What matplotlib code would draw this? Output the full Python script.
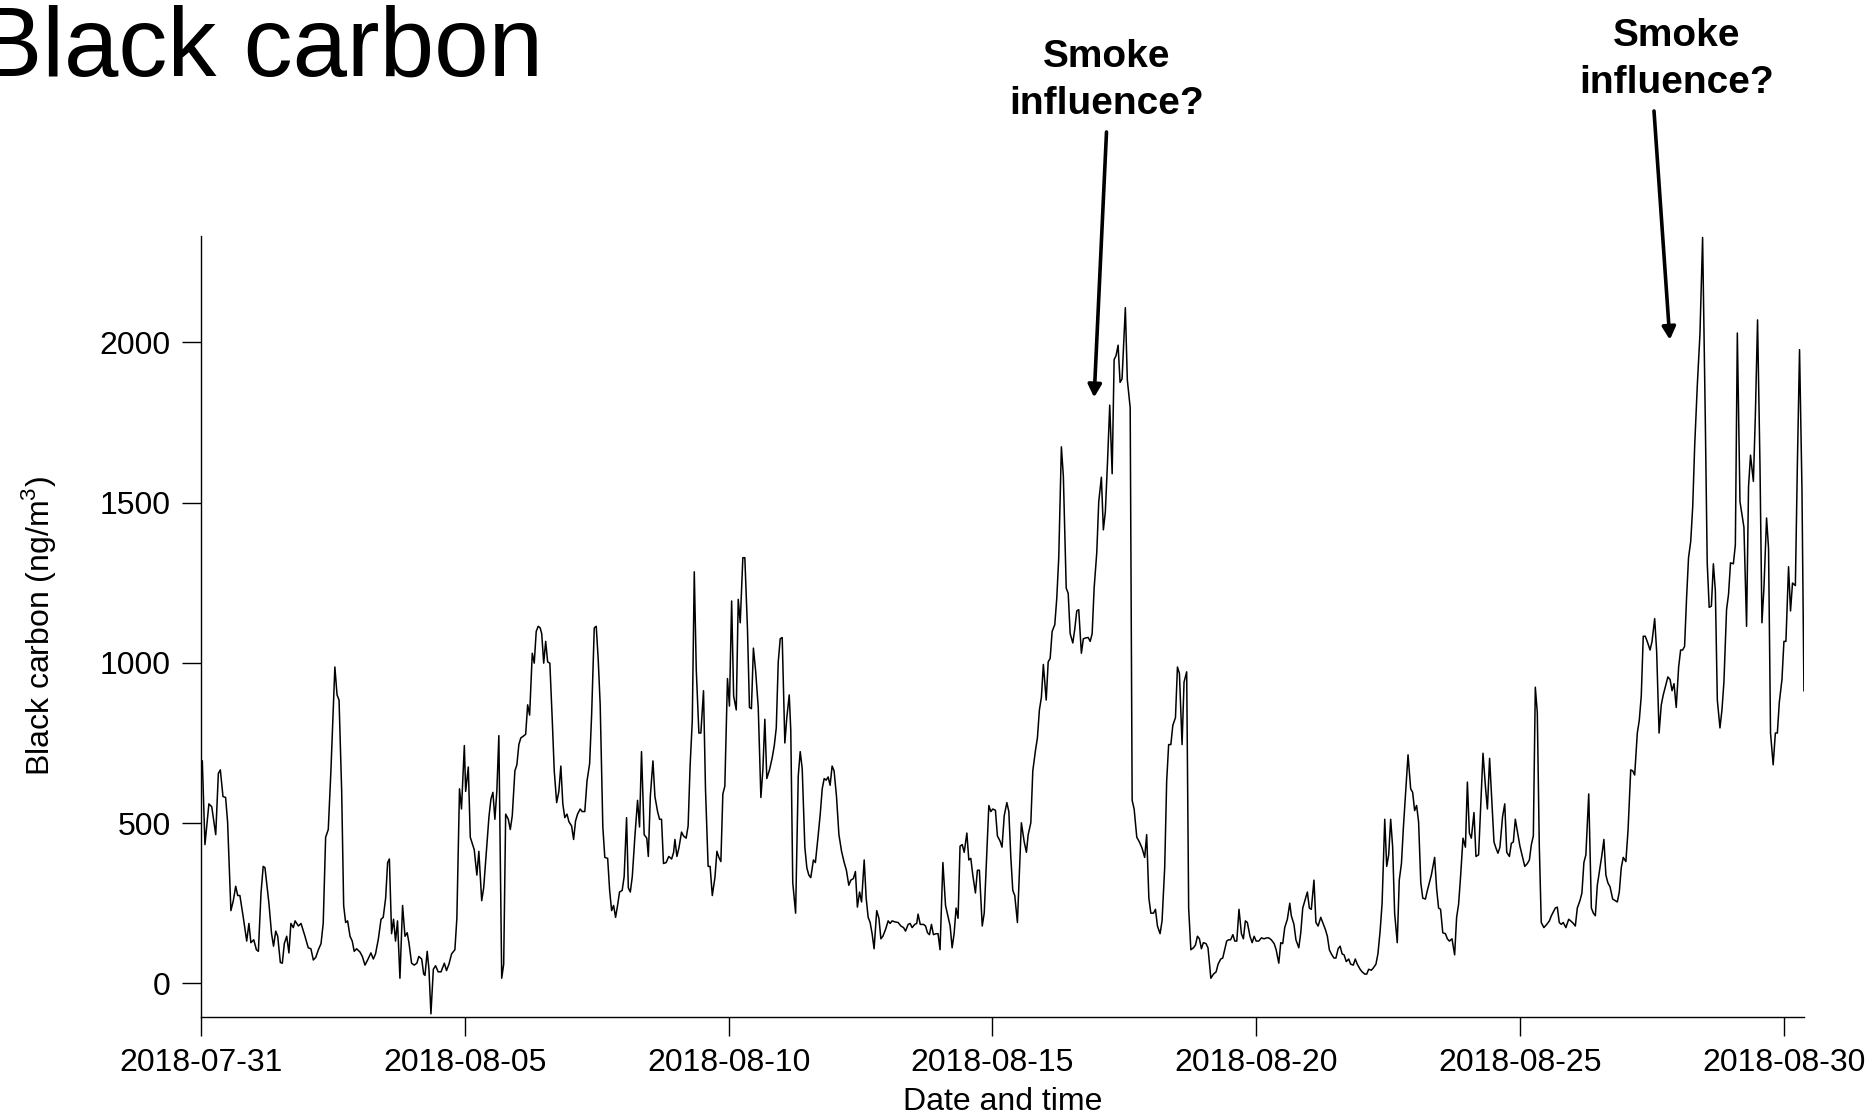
import matplotlib.pyplot as plt
import pandas as pd

plt.rcParams['font.family'] = ['Liberation Sans', 'DejaVu Sans']
plt.rcParams['mathtext.fontset'] = 'custom'
plt.rcParams['mathtext.rm'] = 'Liberation Sans'

start = pd.Timestamp('2018-07-31 00:00')

# hours since start / black carbon (ng/m3), split into ~5 day blocks
hours_a = [0.6, 1.8, 3.6, 4.9, 6.7, 7.9, 8.8, 10.0, 11.2, 12.1,
           13.6, 14.7, 15.8, 16.7, 17.7, 19.3, 20.8, 21.8, 22.7, 24.0,
           25.2, 26.1, 27.3, 28.3, 29.1, 30.9, 32.1, 33.0, 34.0, 34.9,
           36.1, 37.0, 37.9, 39.0, 40.0, 40.9, 42.0, 42.8, 44.3, 45.5,
           47.3, 48.8, 50.0, 51.1, 52.2, 53.4, 54.6, 55.6, 56.7, 57.9,
           59.1, 60.9, 61.9, 62.8, 64.0, 64.9, 65.8, 66.7, 67.8, 68.8,
           69.7, 70.8, 72.3, 73.4, 74.6, 75.8, 77.3, 78.4, 79.4, 80.7,
           81.9, 82.9, 84.0, 84.9, 85.7, 86.7, 87.6, 88.5, 89.4, 90.5,
           91.7, 92.8, 93.8, 94.6, 95.8, 97.0, 98.2, 99.1, 100.4, 101.3,
           101.9, 102.9, 103.7, 104.6, 105.7, 106.7, 107.9, 109.2, 110.7, 111.7,
           112.8, 114.0, 115.5, 116.4, 117.6, 118.5, 119.8]
bc_a = [694, 433, 560, 551, 464, 655, 666, 583, 580, 504,
        227, 258, 303, 274, 274, 203, 132, 187, 127, 136,
        105, 100, 282, 365, 361, 250, 155, 116, 163, 147,
        65, 63, 124, 147, 95, 187, 174, 195, 179, 187,
        147, 111, 108, 73, 81, 105, 124, 187, 456, 480,
        663, 987, 900, 884, 599, 243, 190, 195, 147, 132,
        100, 108, 98, 84, 57, 73, 95, 76, 92, 139,
        200, 206, 266, 377, 388, 155, 200, 132, 195, 16,
        243, 147, 158, 127, 63, 57, 63, 84, 76, 29,
        25, 100, 44, -95, 44, 55, 36, 36, 63, 40,
        60, 92, 105, 203, 607, 544, 742]

hours_b = [120.4, 121.6, 122.5, 124.3, 125.5, 126.4, 127.7, 128.6, 129.9, 131.0,
           131.9, 132.8, 133.7, 134.6, 135.5, 136.8, 137.7, 138.6, 139.8, 140.7,
           141.6, 142.8, 143.7, 144.6, 145.5, 146.4, 147.7, 148.6, 149.5, 150.7,
           151.6, 152.5, 153.4, 154.3, 155.0, 155.9, 156.8, 157.7, 158.7, 159.8,
           160.7, 161.8, 162.8, 163.7, 164.6, 165.5, 166.5, 167.4, 168.6, 169.5,
           170.4, 171.3, 172.5, 173.4, 174.6, 175.6, 176.8, 177.7, 178.9, 179.8,
           180.7, 181.6, 182.8, 183.7, 185.0, 185.9, 186.8, 187.7, 188.6, 189.5,
           190.4, 191.6, 192.5, 193.6, 194.4, 195.3, 196.2, 197.4, 198.6, 199.5,
           200.4, 201.6, 202.8, 203.5, 204.4, 205.6, 206.5, 207.7, 208.6, 209.5,
           210.4, 211.6, 212.8, 214.1, 215.0, 215.6, 216.5, 217.4, 218.6, 219.5,
           220.7, 221.6, 222.5, 223.5, 224.4, 225.3, 226.5, 227.4, 228.6, 229.5,
           230.7, 231.6, 232.6, 233.8, 234.7, 235.6, 236.5, 237.4, 238.3, 239.5,
           240.4, 241.4, 242.3, 243.5, 244.4, 245.3, 246.5, 247.4]
bc_b = [599, 675, 456, 417, 338, 412, 258, 298, 417, 520,
        575, 596, 512, 602, 773, 16, 60, 528, 512, 480,
        523, 663, 682, 745, 766, 770, 777, 869, 837, 1030,
        999, 1098, 1114, 1109, 1091, 999, 1067, 1003, 999, 821,
        663, 564, 599, 678, 560, 517, 528, 504, 491, 449,
        507, 528, 544, 536, 536, 631, 686, 837, 1109, 1114,
        1011, 869, 488, 393, 390, 290, 227, 243, 206, 243,
        285, 290, 333, 517, 298, 285, 333, 460, 571, 488,
        723, 464, 453, 396, 583, 694, 583, 536, 512, 512,
        374, 377, 396, 388, 409, 449, 396, 422, 472, 460,
        453, 491, 678, 821, 1284, 980, 781, 781, 913, 607,
        365, 365, 274, 330, 412, 393, 380, 591, 615, 951,
        865, 1193, 897, 853, 1198, 1125, 1328, 1328]

hours_c = [248.6, 249.5, 250.4, 251.3, 252.3, 253.5, 254.7, 255.6, 256.5, 257.4,
           258.6, 259.8, 260.8, 261.7, 262.6, 263.5, 264.4, 265.6, 266.5, 267.6,
           268.3, 269.2, 270.5, 271.7, 272.6, 273.5, 274.7, 275.6, 276.5, 277.4,
           278.6, 279.5, 280.8, 281.7, 282.6, 283.5, 284.4, 285.3, 286.2, 287.1,
           288.0, 289.1, 290.2, 291.4, 292.6, 293.6, 294.7, 295.6, 296.8, 297.7,
           298.6, 299.6, 300.5, 301.7, 302.6, 303.5, 304.4, 305.3, 306.2, 307.4,
           308.4, 309.3, 310.2, 311.4, 312.6, 313.5, 314.4, 315.6, 317.1, 318.4,
           319.6, 320.5, 321.7, 322.6, 323.5, 324.7, 325.6, 326.2, 327.2, 328.7,
           329.6, 330.5, 331.4, 332.3, 333.2, 334.4, 335.3, 336.2, 337.5, 338.7,
           339.9, 340.8, 341.7, 342.6, 343.5, 344.4, 345.3, 346.3, 347.2, 348.4,
           349.3, 350.2, 351.1, 352.3, 353.2, 354.1, 355.4, 356.3, 357.5, 358.4,
           359.3, 360.2, 361.4, 362.3, 363.5, 364.4, 365.4, 366.6, 367.5]
bc_c = [1106, 861, 857, 1046, 976, 861, 580, 666, 824, 639,
        666, 702, 742, 797, 1003, 1075, 1079, 750, 829, 900,
        789, 314, 219, 647, 723, 670, 425, 361, 338, 330,
        385, 377, 464, 528, 607, 639, 634, 644, 618, 678,
        663, 583, 464, 412, 377, 353, 306, 322, 327, 349,
        238, 285, 254, 385, 266, 206, 190, 155, 108, 227,
        203, 139, 147, 168, 195, 187, 195, 192, 190, 179,
        174, 163, 184, 187, 174, 184, 187, 216, 184, 184,
        179, 158, 152, 184, 152, 155, 155, 105, 377, 243,
        206, 179, 111, 155, 235, 203, 428, 433, 409, 469,
        385, 390, 338, 282, 353, 353, 179, 219, 409, 555,
        536, 544, 540, 460, 444, 425, 523, 564, 536]

hours_d = [368.4, 369.3, 370.2, 371.4, 372.3, 373.2, 374.5, 375.5, 376.3, 377.5,
           378.4, 379.6, 380.5, 381.4, 382.3, 383.2, 384.5, 385.4, 386.3, 387.2,
           388.4, 389.3, 390.2, 391.4, 392.3, 393.6, 394.5, 395.4, 396.6, 397.5,
           398.4, 399.3, 400.5, 401.4, 402.6, 403.6, 404.5, 405.4, 406.3, 407.5,
           408.4, 409.6, 410.5, 411.4, 412.4, 413.4, 414.5, 415.4, 416.3, 417.2,
           418.1, 419.0, 420.5, 421.4, 422.7, 423.6, 424.5, 425.7, 426.9, 428.1,
           429.3, 430.2, 431.2, 432.1, 433.3, 434.2, 435.1, 436.3, 437.2, 438.4,
           439.3, 440.2, 441.2, 442.1, 443.3, 444.2, 445.1, 446.3, 447.2, 448.4,
           449.3, 450.3, 451.5, 452.4, 453.3, 454.2, 455.1, 456.0, 457.2, 458.1,
           459.4, 460.6, 461.8, 462.7, 463.9, 464.8, 465.7, 466.6, 467.5, 468.4,
           469.4, 470.3, 471.2, 472.2, 473.3, 474.2, 475.1, 476.0, 477.2, 478.2,
           479.1, 480.0, 481.2, 482.4, 483.6, 484.8, 485.7, 486.9, 488.2, 489.1,
           490.3, 491.2, 492.1, 493.0]
bc_d = [393, 290, 274, 190, 346, 501, 441, 409, 464, 501,
        663, 726, 766, 853, 892, 995, 884, 1003, 1014, 1098,
        1119, 1201, 1328, 1674, 1582, 1233, 1217, 1091, 1062, 1106,
        1162, 1166, 1030, 1075, 1078, 1079, 1067, 1091, 1233, 1344,
        1503, 1579, 1415, 1471, 1629, 1804, 1590, 1946, 1959, 1991,
        1875, 1886, 2108, 1883, 1796, 571, 544, 456, 441, 422,
        393, 464, 266, 219, 219, 231, 179, 155, 195, 361,
        631, 745, 745, 805, 829, 987, 967, 745, 940, 972,
        235, 105, 111, 120, 147, 139, 108, 127, 124, 111,
        16, 29, 36, 60, 76, 79, 105, 132, 136, 136,
        152, 132, 132, 231, 155, 139, 195, 190, 147, 127,
        147, 132, 132, 142, 139, 142, 142, 136, 124, 105,
        63, 127, 124, 174]

hours_e = [494.2, 495.3, 496.0, 497.2, 498.1, 499.4, 500.3, 501.2, 502.4, 503.3,
           504.2, 505.1, 506.3, 507.2, 508.2, 509.4, 510.3, 511.5, 512.4, 513.3,
           514.2, 515.4, 516.3, 517.3, 518.2, 519.1, 520.0, 521.0, 522.1, 523.0,
           524.2, 525.1, 526.0, 527.3, 528.2, 529.4, 530.3, 531.2, 532.4, 533.3,
           534.5, 535.4, 536.4, 537.3, 538.5, 539.4, 540.3, 541.2, 542.1, 543.0,
           544.2, 545.1, 546.1, 547.0, 548.2, 549.1, 550.3, 551.2, 552.1, 553.0,
           553.9, 554.9, 555.8, 557.0, 557.9, 558.8, 559.7, 561.2, 562.1, 563.0,
           563.9, 564.9, 566.1, 567.0, 567.9, 569.1, 570.3, 571.2, 572.1, 573.0,
           574.1, 575.2, 576.1, 577.0, 577.9, 579.1, 580.0, 581.2, 582.1, 583.2,
           584.3, 585.2, 586.2, 587.0, 588.2, 589.1, 590.0, 590.9, 592.1, 593.1,
           594.0, 595.2, 596.1, 597.0, 597.9, 599.1, 600.0, 601.2, 602.2, 603.4,
           604.3, 605.2, 606.1, 607.0, 607.9, 608.8, 609.7, 610.9, 612.2, 613.4,
           614.3, 615.5]
bc_e = [200, 250, 211, 184, 136, 111, 158, 235, 263, 285,
        235, 231, 322, 190, 179, 206, 190, 168, 147, 105,
        92, 79, 79, 108, 116, 92, 89, 68, 76, 60,
        57, 76, 60, 44, 36, 29, 29, 44, 41, 48,
        60, 92, 163, 250, 512, 365, 401, 512, 425, 219,
        127, 322, 374, 488, 615, 713, 607, 596, 539, 555,
        504, 314, 266, 263, 290, 314, 338, 393, 295, 235,
        231, 158, 155, 139, 132, 139, 89, 206, 247, 333,
        453, 425, 628, 469, 453, 533, 396, 401, 544, 718,
        615, 544, 702, 599, 441, 422, 406, 425, 520, 560,
        409, 396, 437, 441, 512, 464, 428, 393, 365, 374,
        385, 433, 460, 924, 845, 433, 190, 174, 184, 195,
        211, 227]

hours_f = [616.1, 617.0, 617.9, 618.8, 619.7, 620.9, 622.2, 623.1, 624.3, 625.2,
           626.1, 627.3, 628.2, 629.1, 630.0, 631.3, 632.5, 633.4, 634.3, 635.2,
           636.4, 637.3, 638.2, 639.1, 640.0, 641.0, 642.2, 643.4, 644.3, 645.2,
           646.1, 647.0, 648.2, 649.2, 650.4, 651.3, 652.2, 653.4, 654.3, 655.2,
           656.1, 657.0, 657.9, 659.2, 660.1, 661.3, 662.2, 663.3, 664.3, 665.2,
           666.1, 667.3, 668.3, 669.2, 670.1, 671.1, 672.2, 673.1, 674.0, 674.9,
           675.8, 676.7, 677.7, 678.6, 679.5, 680.7, 681.9, 683.1, 684.3, 685.2,
           686.1, 687.1, 688.0, 688.9, 689.8, 691.0, 691.9, 692.8, 694.0, 694.9,
           695.8, 697.1, 698.0, 698.9, 700.1, 701.0, 701.9, 703.1, 704.0, 704.9,
           706.2, 707.1, 708.1, 709.2, 710.1, 711.0, 712.2, 713.1, 714.0, 715.2,
           716.2, 717.1, 718.0, 719.2, 720.1, 721.0, 722.2, 723.1, 724.0, 725.3,
           726.2, 727.2, 728.3, 729.2]
bc_f = [235, 238, 190, 184, 190, 174, 200, 195, 187, 179,
        235, 258, 282, 377, 401, 591, 235, 219, 211, 306,
        361, 401, 449, 338, 314, 301, 263, 258, 254, 285,
        361, 393, 380, 480, 666, 663, 650, 781, 821, 897,
        1083, 1083, 1067, 1040, 1067, 1138, 1035, 781, 869, 900,
        924, 956, 948, 913, 935, 861, 987, 1040, 1040, 1051,
        1201, 1328, 1379, 1487, 1677, 1867, 2026, 2327, 1771, 1312,
        1173, 1177, 1309, 1225, 884, 797, 853, 940, 1166, 1214,
        1312, 1309, 1368, 2029, 1503, 1463, 1423, 1114, 1550, 1648,
        1566, 1772, 2070, 1617, 1125, 1233, 1452, 1357, 781, 682,
        781, 781, 877, 948, 1067, 1067, 1300, 1162, 1249, 1241,
        1613, 1977, 1542, 913]

hours = hours_a + hours_b + hours_c + hours_d + hours_e + hours_f
bc = bc_a + bc_b + bc_c + bc_d + bc_e + bc_f
times = start + pd.to_timedelta(hours, unit='h')

tick_dates = pd.date_range('2018-07-31', '2018-08-30', freq='5D')
y_ticks = [0, 500, 1000, 1500, 2000]

# smoke arrows: (hours since start, value) of each arrow tip
smoke_tips = [(406.3, 1828), (668.2, 2008)]
smoke_label = 'Smoke\ninfluence?'

fig = plt.figure(figsize=(18.75, 11.17), dpi=100)
ax = fig.add_axes([0.107, 0.0895, 0.8551, 0.6996])

ax.plot(times, bc, color='black', lw=1.1)

ax.set_xlim(start - pd.Timedelta(minutes=10), times[-1])
ax.set_ylim(-105, 2333)
ax.set_xticks(tick_dates)
ax.set_xticklabels([d.strftime('%Y-%m-%d') for d in tick_dates])
ax.set_yticks(y_ticks)

for side in ['top', 'right']:
    ax.spines[side].set_visible(False)
for side in ['left', 'bottom']:
    ax.spines[side].set_linewidth(1.0)
ax.tick_params(axis='both', direction='out', length=13.5, width=1.0,
               labelsize=23)
ax.tick_params(axis='x', pad=8.5)
ax.tick_params(axis='y', pad=8)

ax.set_xlabel('Date and time', fontsize=23, labelpad=6.5)
ax.set_ylabel(r'Black carbon (ng/m$^\mathrm{3}$)', fontsize=23, labelpad=30)

fig.text(-23 / 1875, 1 - 76 / 1117, 'Black carbon', fontsize=70.5,
         ha='left', va='baseline')

# annotation text centres and arrow tails in figure pixels
label_pos = [(1107, 1117 - 80.5), (1677, 1117 - 59.5)]
tail_pos = [(1106.5, 1117 - 132), (1654, 1117 - 111)]
for (th, tv), (lx, ly), tail in zip(smoke_tips, label_pos, tail_pos):
    fig.text(lx / 1875, ly / 1117, smoke_label, fontsize=28, fontweight='bold',
             ha='center', va='center', multialignment='center', linespacing=1.42)
    ax.annotate('', xy=(start + pd.Timedelta(hours=th), tv), xycoords='data',
                xytext=tail, textcoords='figure pixels',
                arrowprops=dict(arrowstyle='-|>,head_length=0.75,head_width=0.4',
                                lw=2.6, color='black', shrinkA=0, shrinkB=0,
                                mutation_scale=10),
                annotation_clip=False)

fig.savefig('out.png', dpi=100)
